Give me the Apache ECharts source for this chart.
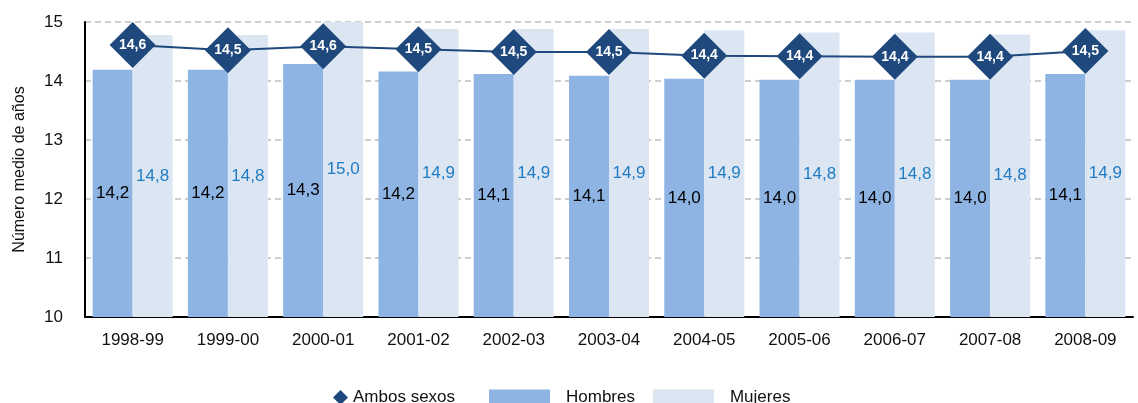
<!DOCTYPE html>
<html>
<head>
<meta charset="utf-8">
<script src="https://cdn.jsdelivr.net/npm/echarts@6/dist/echarts.min.js"></script>
<style>
  html, body { margin: 0; padding: 0; background: #fff; }
  #chart { width: 1138px; height: 403px; }
</style>
</head>
<body>
<div id="chart"></div>
<script>
'use strict';

var years = ['1998-99', '1999-00', '2000-01', '2001-02', '2002-03', '2003-04',
    '2004-05', '2005-06', '2006-07', '2007-08', '2008-09'];
var hombres = [14.19, 14.19, 14.29, 14.16, 14.12, 14.09, 14.04, 14.02, 14.02, 14.02, 14.12];
var mujeres = [14.78, 14.78, 15.0, 14.88, 14.88, 14.88, 14.86, 14.82, 14.82, 14.79, 14.86];
var ambos = [14.61, 14.52, 14.59, 14.54, 14.49, 14.49, 14.43, 14.42, 14.41, 14.41, 14.51];
var yTicks = [10, 11, 12, 13, 14, 15];

var FONT = 'Liberation Sans, Arial, sans-serif';

// one decimal, spanish style comma
var fmt = function(p) {
    return p.value.toFixed(1).replace('.', ',');
};

var myChart = echarts.init(document.getElementById('chart'));
var option = {
    animation: false,
    textStyle: { fontFamily: FONT },
    grid: { left: 85, right: 5, top: 22, bottom: 86 },
    legend: [{
        left: 328,
        top: 384,
        itemWidth: 15,
        itemHeight: 15,
        data: [{ name: 'Ambos sexos', icon: 'diamond' }],
        textStyle: { fontSize: 17, color: '#111', fontFamily: FONT }
    }, {
        left: 484,
        top: 384,
        itemWidth: 61,
        itemHeight: 16,
        itemGap: 18,
        data: [{ name: 'Hombres', icon: 'rect' }, { name: 'Mujeres', icon: 'rect' }],
        textStyle: { fontSize: 17, color: '#111', fontFamily: FONT, padding: [0, 0, 0, 11] }
    }],
    xAxis: {
        type: 'category',
        data: years,
        axisLine: { lineStyle: { color: '#000', width: 2 } },
        axisTick: { show: false },
        axisLabel: { fontSize: 17, color: '#111', margin: 15 }
    },
    yAxis: {
        type: 'value',
        min: yTicks[0],
        max: yTicks[yTicks.length - 1],
        interval: 1,
        name: 'Número medio de años',
        nameLocation: 'middle',
        nameRotate: 90,
        nameGap: 57,
        nameTextStyle: { fontSize: 16, color: '#111' },
        axisLine: { show: true, lineStyle: { color: '#000', width: 2 } },
        axisTick: { show: false },
        axisLabel: { fontSize: 17, color: '#111', margin: 22 },
        splitLine: { lineStyle: { color: '#bdbdbd', type: [6, 4], width: 1.5 } }
    },
    series: [{
        name: 'Hombres',
        type: 'bar',
        data: hombres,
        barWidth: 40,
        barGap: '0%',
        itemStyle: { color: '#8eb4e3' },
        label: { show: true, position: 'inside', formatter: fmt, fontSize: 17, color: '#000' }
    }, {
        name: 'Mujeres',
        type: 'bar',
        data: mujeres,
        barWidth: 40,
        itemStyle: { color: '#dce6f2' },
        label: { show: true, position: 'inside', formatter: fmt, fontSize: 17, color: '#1f7cc4' }
    }, {
        name: 'Ambos sexos',
        type: 'line',
        data: ambos,
        symbol: 'diamond',
        symbolSize: 46,
        z: 5,
        lineStyle: { color: '#1f497d', width: 2 },
        itemStyle: { color: '#1f497d' },
        label: {
            show: true,
            position: 'inside',
            formatter: fmt,
            fontSize: 14,
            fontWeight: 'bold',
            color: '#fff'
        }
    }]
};
myChart.setOption(option);
</script>
</body>
</html>
